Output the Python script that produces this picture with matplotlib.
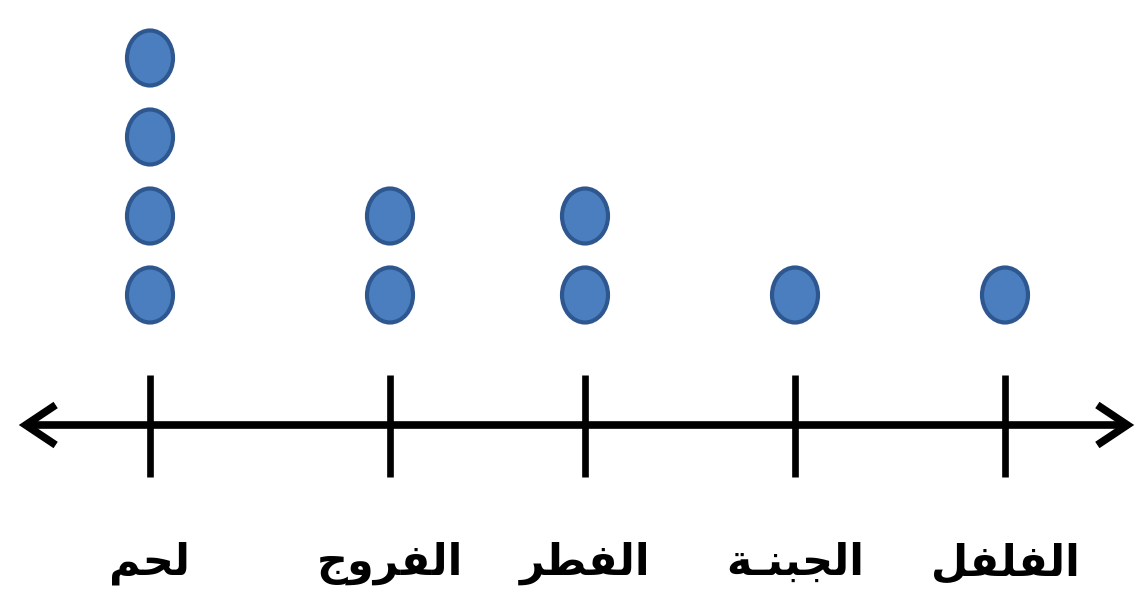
import matplotlib
matplotlib.use('Agg')
import matplotlib.pyplot as plt
from matplotlib.patches import Ellipse, FancyArrowPatch

# data
foods = ['لحم', 'الفروج', 'الفطر', 'الجبنـة', 'الفلفل']
counts = [4, 2, 2, 1, 1]

# layout (pixel-like x positions of the ticks along the line)
tick_x = [150, 390, 585, 795, 1005]

# Arabic shaping by hand: matplotlib draws glyphs left to right without joining
FORMS = {
    'ا': ('\uFE8D', '\uFE8E', None, None),
    'ب': ('\uFE8F', '\uFE90', '\uFE91', '\uFE92'),
    'ة': ('\uFE93', '\uFE94', None, None),
    'ج': ('\uFE9D', '\uFE9E', '\uFE9F', '\uFEA0'),
    'ح': ('\uFEA1', '\uFEA2', '\uFEA3', '\uFEA4'),
    'ر': ('\uFEAD', '\uFEAE', None, None),
    'ط': ('\uFEC1', '\uFEC2', '\uFEC3', '\uFEC4'),
    'ف': ('\uFED1', '\uFED2', '\uFED3', '\uFED4'),
    'ل': ('\uFEDD', '\uFEDE', '\uFEDF', '\uFEE0'),
    'م': ('\uFEE1', '\uFEE2', '\uFEE3', '\uFEE4'),
    'ن': ('\uFEE5', '\uFEE6', '\uFEE7', '\uFEE8'),
    'و': ('\uFEED', '\uFEEE', None, None),
    'ـ': ('ـ', 'ـ', 'ـ', 'ـ'),
}

def shape(word):
    out = []
    n = len(word)
    for i, ch in enumerate(word):
        f = FORMS[ch]
        prev_j = i > 0 and FORMS[word[i-1]][2] is not None
        next_j = i < n-1 and f[2] is not None
        if prev_j and next_j:
            out.append(f[3])
        elif prev_j:
            out.append(f[1])
        elif next_j:
            out.append(f[2])
        else:
            out.append(f[0])
    return ''.join(reversed(out))

fig = plt.figure(figsize=(11.4, 6.1), dpi=100)
ax = fig.add_axes([0, 0, 1, 1])
ax.set_xlim(0, 1140)
# one count step = 79 px, axis line sits 130 px below the first dot
step = 79.0
axis_y = 1 - 130/step
ax.set_ylim(axis_y - 185/step, axis_y + 425/step)
ax.axis('off')

# number line with arrows
arr = FancyArrowPatch((16, axis_y), (1137, axis_y), arrowstyle='<->,head_length=0.36,head_width=0.24',
                      mutation_scale=60, lw=5.5, color='black', capstyle='butt', joinstyle='miter')
ax.add_patch(arr)
for x in tick_x:
    ax.plot([x, x], [axis_y + 50/step, axis_y - 52/step], color='black', lw=4.8, solid_capstyle='butt')

# stacked dots
for x, c in zip(tick_x, counts):
    for k in range(1, c+1):
        ax.add_patch(Ellipse((x, k), 46, 55/step, facecolor='#4A7EBF', edgecolor='#2E5790', lw=3))

# labels
for x, name in zip(tick_x, foods):
    ax.text(x, axis_y - 138/step, shape(name), ha='center', va='center', fontsize=31,
            fontweight='bold', family=['DejaVu Sans'], color='black')

plt.savefig('out.png', dpi=100)
